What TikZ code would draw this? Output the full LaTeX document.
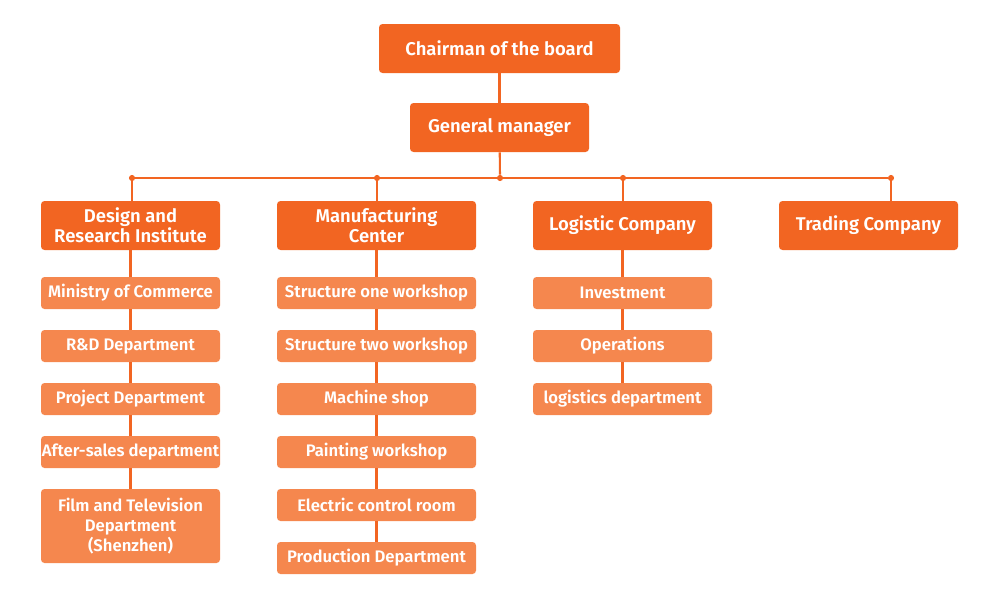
\documentclass[tikz,border=0pt]{standalone}
\usepackage{fontspec}
\setmainfont{Fira Sans}[BoldFont={Fira Sans SemiBold}]
\usepackage{tikz}
\usetikzlibrary{positioning}

\definecolor{darkorg}{HTML}{F26522}
\definecolor{lightorg}{HTML}{F5874E}

\tikzset{
  head/.style={fill=darkorg, text=white, rounded corners=2pt, inner sep=0pt,
    minimum height=49*0.02cm, font=\bfseries\fontsize{10.5}{11.4}\selectfont, align=center},
  unit/.style={fill=lightorg, text=white, rounded corners=2pt, inner sep=0pt,
    minimum width=179*0.02cm, minimum height=32*0.02cm, font=\bfseries\fontsize{9.5}{11.4}\selectfont, align=center},
  wire/.style={draw=darkorg, line width=1.2pt},
  knot/.style={circle, fill=darkorg, inner sep=0pt, minimum size=3.5pt}
}

\begin{document}
\begin{tikzpicture}[x=0.02cm, y=-0.02cm]
  \useasboundingbox (0,0) rectangle (1000,602);

  % top of the tree
  \node[head, minimum width=241*0.02cm] (chair) at (499.5,48.5) {Chairman of the board};
  \node[head, minimum width=179*0.02cm] (gm) at (499.5,127.5) {General manager};

  % bus with its knots
  \node[knot] (k1) at (132,178) {};
  \node[knot] (k2) at (377,178) {};
  \node[knot] (k3) at (500,178) {};
  \node[knot] (k4) at (623,178) {};
  \node[knot] (k5) at (891,178) {};

  % second level
  \node[head, minimum width=179*0.02cm] (design) at (130.5,225.5) {Design and\\Research Institute};
  \node[head, minimum width=199*0.02cm] (manu) at (376.5,225.5) {Manufacturing\\Center};
  \node[head, minimum width=179*0.02cm] (logi) at (622.5,225.5) {Logistic Company};
  \node[head, minimum width=179*0.02cm] (trade) at (868.5,225.5) {Trading Company};

  % design column
  \node[unit] (d1) at (130.5,293) {Ministry of Commerce};
  \node[unit] (d2) at (130.5,346) {R\&D Department};
  \node[unit] (d3) at (130.5,399) {Project Department};
  \node[unit] (d4) at (130.5,452) {After-sales department};
  \node[unit, minimum height=74*0.02cm] (d5) at (130.5,526) {Film and Television\\Department\\(Shenzhen)};

  % manufacturing column
  \node[unit, minimum width=199*0.02cm] (m1) at (376.5,293) {Structure one workshop};
  \node[unit, minimum width=199*0.02cm] (m2) at (376.5,346) {Structure two workshop};
  \node[unit, minimum width=199*0.02cm] (m3) at (376.5,399) {Machine shop};
  \node[unit, minimum width=199*0.02cm] (m4) at (376.5,452) {Painting workshop};
  \node[unit, minimum width=199*0.02cm] (m5) at (376.5,505) {Electric control room};
  \node[unit, minimum width=199*0.02cm] (m6) at (376.5,558) {Production Department};

  % logistic column
  \node[unit] (l1) at (622.5,293) {Investment};
  \node[unit] (l2) at (622.5,346) {Operations};
  \node[unit] (l3) at (622.5,399) {logistics department};

  % wires
  \draw[wire] (chair) -- (gm);
  \draw[wire] (gm) -- (k3);
  \draw[wire] (k1) -- (k5);
  \draw[wire] (k1) -- (k1 |- design.north);
  \draw[wire] (k2) -- (k2 |- manu.north);
  \draw[wire] (k4) -- (k4 |- logi.north);
  \draw[wire] (k5) -- (k5 |- trade.north);

  \draw[wire] (design) -- (d1) -- (d2) -- (d3) -- (d4) -- (d5);
  \draw[wire] (manu) -- (m1) -- (m2) -- (m3) -- (m4) -- (m5) -- (m6);
  \draw[wire] (logi) -- (l1) -- (l2) -- (l3);
\end{tikzpicture}
\end{document}
